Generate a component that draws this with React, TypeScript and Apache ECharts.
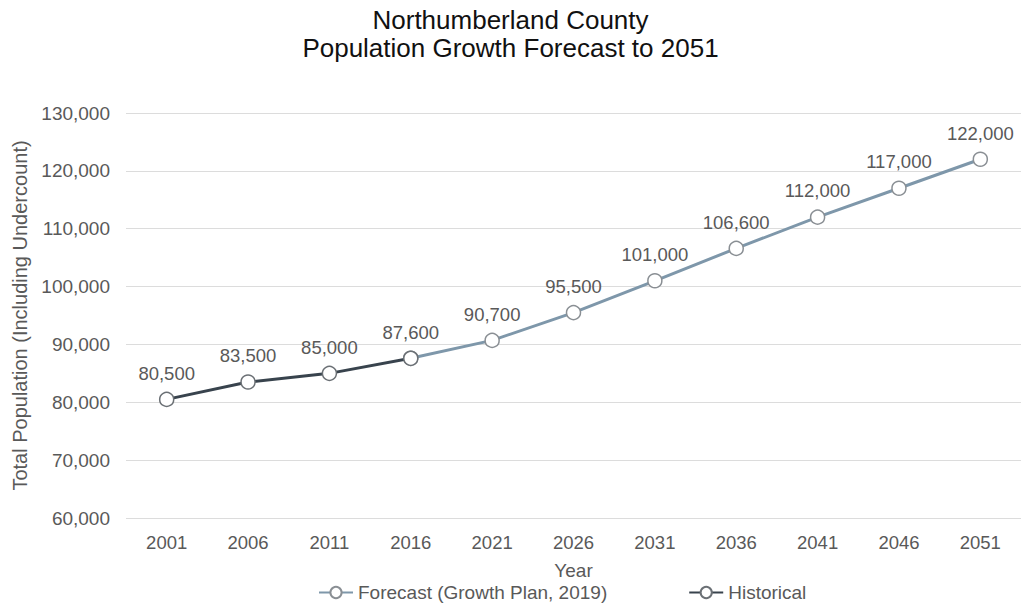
import React, { useEffect, useRef } from "react";
import * as echarts from "echarts";

const years = ["2001", "2006", "2011", "2016", "2021", "2026", "2031", "2036", "2041", "2046", "2051"];
const historical = [80500, 83500, 85000, 87600, null, null, null, null, null, null, null];
const forecast = [null, null, null, 87600, 90700, 95500, 101000, 106600, 112000, 117000, 122000];
const titleLines = ["Northumberland County", "Population Growth Forecast to 2051"];

const fmt = (v: number) => v.toLocaleString("en-US");

export default function App() {
  const ref = useRef<HTMLDivElement>(null);
  useEffect(() => {
    if (!ref.current) return;
    const chart = echarts.init(ref.current, null, { renderer: "svg" });
    const font = "Arial, 'Liberation Sans', sans-serif";
    const titleStyle = { fontSize: 26, fontWeight: "normal", color: "#111", fontFamily: font };
    chart.setOption({
      animation: false,
      textStyle: { fontFamily: font },
      title: [
        { text: titleLines[0], left: "center", top: 7, padding: 0, textStyle: titleStyle },
        { text: titleLines[1], left: "center", top: 35, padding: 0, textStyle: titleStyle },
      ],
      legend: {
        bottom: 0,
        left: 313,
        itemWidth: 34,
        itemHeight: 14,
        itemGap: 81,
        textStyle: { fontSize: 19, color: "#595959", fontFamily: font },
        data: ["Forecast (Growth Plan, 2019)", "Historical"],
      },
      grid: { left: 126, right: 0, top: 113, bottom: 89, containLabel: false },
      xAxis: {
        type: "category",
        data: years,
        boundaryGap: true,
        name: "Year",
        nameLocation: "middle",
        nameGap: 43,
        nameTextStyle: { fontSize: 19, color: "#595959" },
        axisLine: { show: false },
        axisTick: { show: false },
        axisLabel: { fontSize: 18.5, color: "#595959", margin: 15 },
      },
      yAxis: {
        type: "value",
        min: 60000,
        max: 130000,
        interval: 10000,
        name: "Total Population (Including Undercount)",
        nameLocation: "middle",
        nameGap: 95,
        nameTextStyle: { fontSize: 20, color: "#595959" },
        axisLabel: { fontSize: 19, color: "#595959", margin: 16, formatter: (v: number) => fmt(v) },
        splitLine: { lineStyle: { color: "#dcdcdc", width: 1 } },
        axisLine: { show: false },
        axisTick: { show: false },
      },
      series: [
        {
          name: "Forecast (Growth Plan, 2019)",
          type: "line",
          data: forecast,
          color: "#7e97aa",
          lineStyle: { width: 3, color: "#7e97aa" },
          symbol: "circle",
          symbolSize: 14,
          itemStyle: { color: "#ffffff", borderColor: "#8a8f94", borderWidth: 1.5 },
          label: {
            show: true,
            position: "top",
            distance: 9,
            fontSize: 18.5,
            color: "#595959",
            formatter: (p: any) => (p.dataIndex === 3 ? "" : fmt(p.value)),
          },
          z: 2,
        },
        {
          name: "Historical",
          type: "line",
          data: historical,
          color: "#38434d",
          lineStyle: { width: 3, color: "#38434d" },
          symbol: "circle",
          symbolSize: 14,
          itemStyle: { color: "#ffffff", borderColor: "#6b7075", borderWidth: 1.5 },
          label: {
            show: true,
            position: "top",
            distance: 9,
            fontSize: 18.5,
            color: "#595959",
            formatter: (p: any) => fmt(p.value),
          },
          z: 3,
        },
      ],
    });
    return () => chart.dispose();
  }, []);
  return <div ref={ref} style={{ width: 1021, height: 607, position: "absolute", left: 0, top: 0 }} />;
}
